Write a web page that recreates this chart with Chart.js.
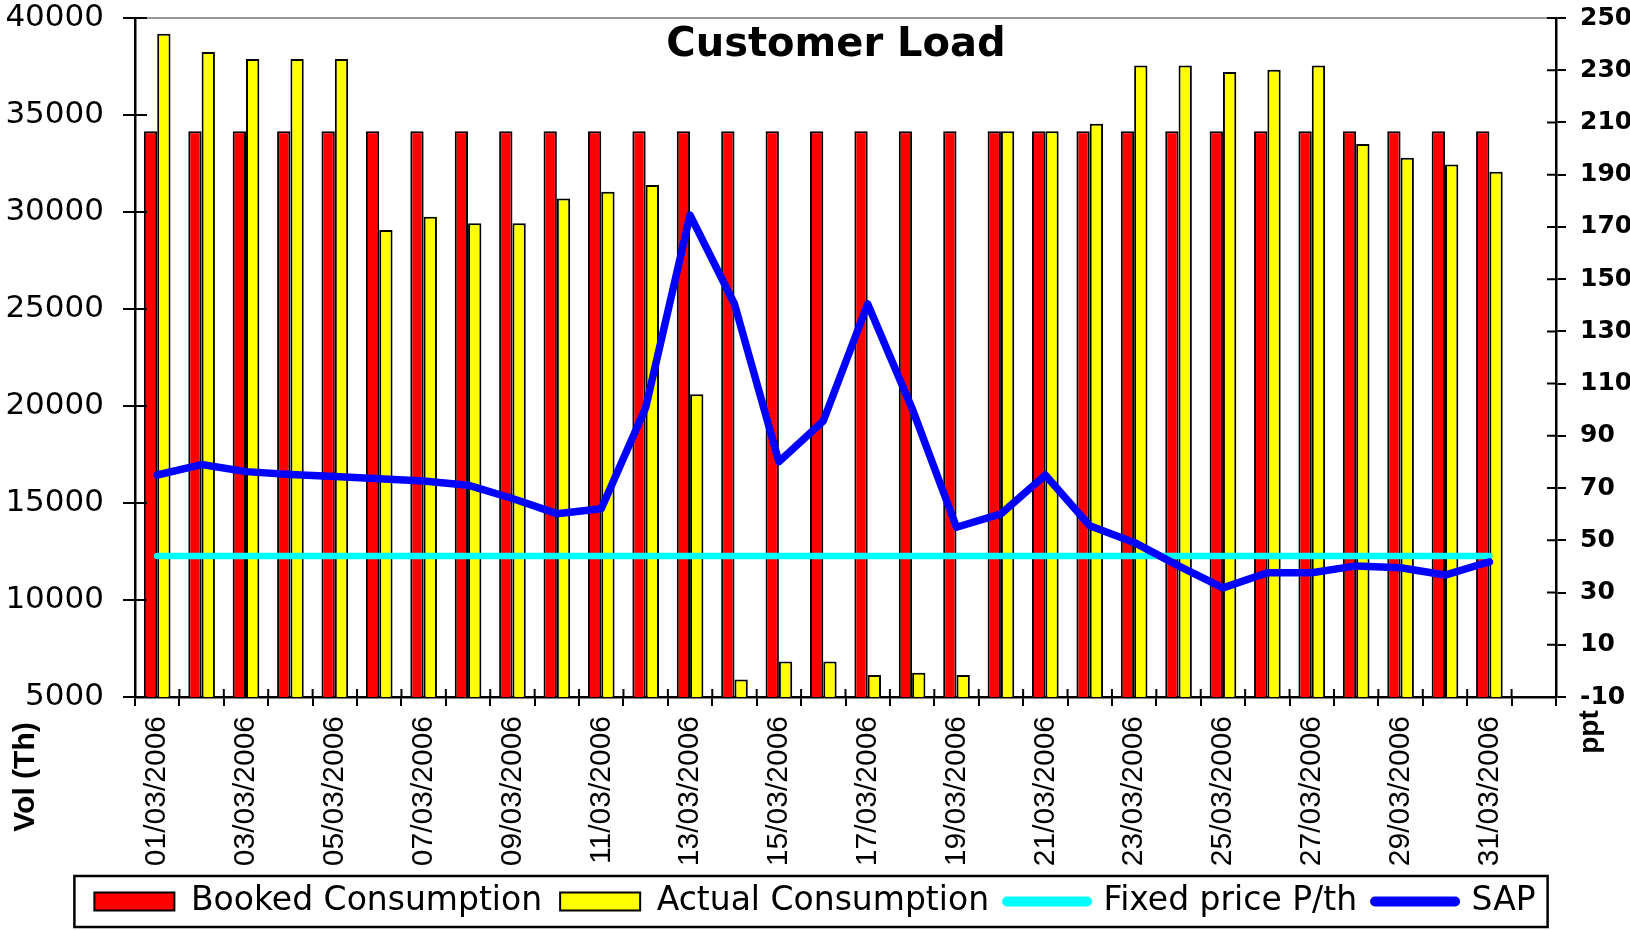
<!DOCTYPE html>
<html>
<head>
<meta charset="utf-8">
<script src="https://cdn.jsdelivr.net/npm/chart.js@4.4.1/dist/chart.umd.min.js"></script>
<style>
  body { margin: 0; background: #fff; }
  #wrap { width: 1630px; height: 930px; }
</style>
</head>
<body>
<div id="wrap"><canvas id="myChart" width="1630" height="930"></canvas></div>
<script>
// dates on the x axis, last slot is empty like in the sheet
var categories = ['01/03/2006', '02/03/2006', '03/03/2006', '04/03/2006', '05/03/2006', '06/03/2006', '07/03/2006', '08/03/2006',
    '09/03/2006', '10/03/2006', '11/03/2006', '12/03/2006', '13/03/2006', '14/03/2006', '15/03/2006', '16/03/2006',
    '17/03/2006', '18/03/2006', '19/03/2006', '20/03/2006', '21/03/2006', '22/03/2006', '23/03/2006', '24/03/2006',
    '25/03/2006', '26/03/2006', '27/03/2006', '28/03/2006', '29/03/2006', '30/03/2006', '31/03/2006', ''];

var booked = [34160, 34160, 34160, 34160, 34160, 34160, 34160, 34160, 34160, 34160, 34160, 34160, 34160, 34160, 34160, 34160,
    34160, 34160, 34160, 34160, 34160, 34160, 34160, 34160, 34160, 34160, 34160, 34160, 34160, 34160, 34160];

var actual = [39190, 38250, 37890, 37890, 37890, 29070, 29760, 29420, 29420, 30690, 31050, 31390, 20600, 5900, 6830, 6830,
    6130, 6250, 6130, 34160, 34160, 34550, 37550, 37550, 37220, 37330, 37550, 33500, 32800, 32450, 32080];

var fixedPrice = [44, 44, 44, 44, 44, 44, 44, 44, 44, 44, 44, 44, 44, 44, 44, 44,
    44, 44, 44, 44, 44, 44, 44, 44, 44, 44, 44, 44, 44, 44, 44];

var sap = [75, 79, 76.3, 75.2, 74.4, 73.6, 72.7, 71.1, 66, 60.2, 62.1, 100.8, 174.5, 140.5, 80.1, 95.7,
    140.5, 100.5, 55, 60.1, 75, 55.6, 49.2, 40.2, 31.8, 37.6, 37.6, 40.2, 39.5, 36.7, 41.8];

var leftTicks = [5000, 10000, 15000, 20000, 25000, 30000, 35000, 40000];
var rightTicks = [-10, 10, 30, 50, 70, 90, 110, 130, 150, 170, 190, 210, 230, 250];

// ticks that cross the axes + free texts (title, axis names) + legend frame
var extras = {
    id: 'extras',
    afterDraw: function (chart) {
        var ctx = chart.ctx;
        var a = chart.chartArea;
        var sy = chart.scales.y, sy1 = chart.scales.y1, sx = chart.scales.x;
        ctx.save();
        ctx.strokeStyle = '#000';
        ctx.lineWidth = 2;
        ctx.beginPath();
        sy.ticks.forEach(function (t) {
            var p = sy.getPixelForValue(t.value);
            ctx.moveTo(a.left, p); ctx.lineTo(a.left + 12, p);
        });
        sy1.ticks.forEach(function (t) {
            var p = sy1.getPixelForValue(t.value);
            ctx.moveTo(a.right - 9, p); ctx.lineTo(a.right, p);
        });
        for (var i = 0; i <= categories.length; i++) {
            var px = sx.getPixelForValue(i - 0.5);
            ctx.moveTo(px, a.bottom - 8); ctx.lineTo(px, a.bottom);
        }
        ctx.stroke();

        // legend frame
        var hb = chart.legend.legendHitBoxes;
        if (hb && hb.length) {
            var last = hb[hb.length - 1];
            ctx.lineWidth = 2.5;
            ctx.strokeRect(hb[0].left - 20, hb[0].top - 9, last.left + last.width + 12 - (hb[0].left - 20), hb[0].height + 18);
        }

        ctx.fillStyle = '#000';
        ctx.textAlign = 'center';
        ctx.textBaseline = 'middle';
        ctx.font = 'bold 40px "DejaVu Sans"';
        ctx.fillText('Customer Load', 836, a.top + 28);

        ctx.save();
        ctx.translate(26, 777);
        ctx.rotate(-Math.PI / 2);
        ctx.font = 'bold 30px "Liberation Sans"';
        ctx.fillText('Vol (Th)', 0, 0);
        ctx.restore();

        ctx.save();
        ctx.translate(1590, 732);
        ctx.rotate(-Math.PI / 2);
        ctx.font = 'bold 28px "Liberation Sans"';
        ctx.fillText('ppt', 0, 0);
        ctx.restore();
        ctx.restore();
    }
};

var ctx = document.getElementById('myChart').getContext('2d');
window.bar = new Chart(ctx, {
    type: 'bar',
    data: {
        labels: categories,
        datasets: [{
            label: 'Booked Consumption',
            data: booked,
            backgroundColor: '#FF0000',
            borderColor: '#000',
            borderWidth: 2,
            yAxisID: 'y',
            order: 2,
            categoryPercentage: 0.6,
            barPercentage: 1.0
        }, {
            label: 'Actual Consumption',
            data: actual,
            backgroundColor: '#FFFF00',
            borderColor: '#000',
            borderWidth: 2,
            yAxisID: 'y',
            order: 2,
            categoryPercentage: 0.6,
            barPercentage: 1.0
        }, {
            type: 'line',
            label: 'Fixed price P/th',
            data: fixedPrice,
            borderColor: '#00FFFF',
            backgroundColor: '#00FFFF',
            borderWidth: 6.5,
            borderCapStyle: 'round',
            pointRadius: 0,
            fill: false,
            yAxisID: 'y1',
            order: 1
        }, {
            type: 'line',
            label: 'SAP',
            data: sap,
            borderColor: '#0000FF',
            backgroundColor: '#0000FF',
            borderWidth: 7.5,
            borderCapStyle: 'round',
            borderJoinStyle: 'round',
            pointRadius: 0,
            fill: false,
            yAxisID: 'y1',
            order: 0
        }]
    },
    options: {
        responsive: false,
        animation: false,
        layout: { padding: { top: 0, bottom: 2, left: 0, right: 0 } },
        plugins: {
            title: { display: false },
            tooltip: { enabled: false },
            legend: {
                position: 'bottom',
                labels: {
                    color: '#000',
                    font: { family: 'DejaVu Sans', size: 33 },
                    padding: 18,
                    usePointStyle: true,
                    pointStyleWidth: 80,
                    boxHeight: 18,
                    sort: function (a, b) { return a.datasetIndex - b.datasetIndex; },
                    generateLabels: function (chart) {
                        var items = Chart.defaults.plugins.legend.labels.generateLabels(chart);
                        items.forEach(function (it) {
                            var ds = chart.data.datasets[it.datasetIndex];
                            if (ds.type === 'line') {
                                it.pointStyle = 'line';
                                it.lineWidth = 10;
                                it.lineCap = 'round';
                            } else {
                                it.pointStyle = 'rect';
                                it.lineWidth = 2;
                            }
                        });
                        return items;
                    }
                }
            }
        },
        scales: {
            x: {
                offset: true,
                grid: { offset: true, drawOnChartArea: false, color: '#000', lineWidth: 2, tickLength: 9 },
                border: { color: '#000', width: 2.5 },
                ticks: {
                    autoSkip: false, maxRotation: 90, minRotation: 90, padding: 10, color: '#000',
                    font: { family: 'Liberation Sans', size: 30 },
                    callback: function (v, i) { return i % 2 === 0 ? categories[i] : ''; }
                },
                afterFit: function (s) { s.height = 170; }
            },
            y: {
                position: 'left',
                min: 5000,
                max: 40000,
                afterBuildTicks: function (s) { s.ticks = leftTicks.map(function (v) { return { value: v }; }); },
                grid: {
                    color: function (c) { return c.tick && c.tick.value === 40000 ? '#999' : 'rgba(0,0,0,0)'; },
                    tickColor: '#000', lineWidth: 2, tickLength: 12
                },
                border: { color: '#000', width: 2.5 },
                ticks: {
                    padding: 19, color: '#000',
                    font: { family: 'DejaVu Sans', size: 31 },
                    callback: function (v) { return String(v); }
                },
                afterFit: function (s) { s.width = 135; s.paddingTop = 18; s.paddingBottom = 18; }
            },
            y1: {
                position: 'right',
                min: -10,
                max: 250,
                afterBuildTicks: function (s) { s.ticks = rightTicks.map(function (v) { return { value: v }; }); },
                grid: { drawOnChartArea: false, color: '#000', tickColor: '#000', lineWidth: 2, tickLength: 10 },
                border: { color: '#000', width: 2.5 },
                ticks: {
                    padding: 14, color: '#000',
                    font: { family: 'DejaVu Sans', size: 25, weight: 'bold' },
                    callback: function (v) { return String(v); }
                },
                afterFit: function (s) { s.width = 74; s.paddingTop = 18; s.paddingBottom = 18; }
            }
        }
    },
    plugins: [extras]
});
</script>
</body>
</html>
